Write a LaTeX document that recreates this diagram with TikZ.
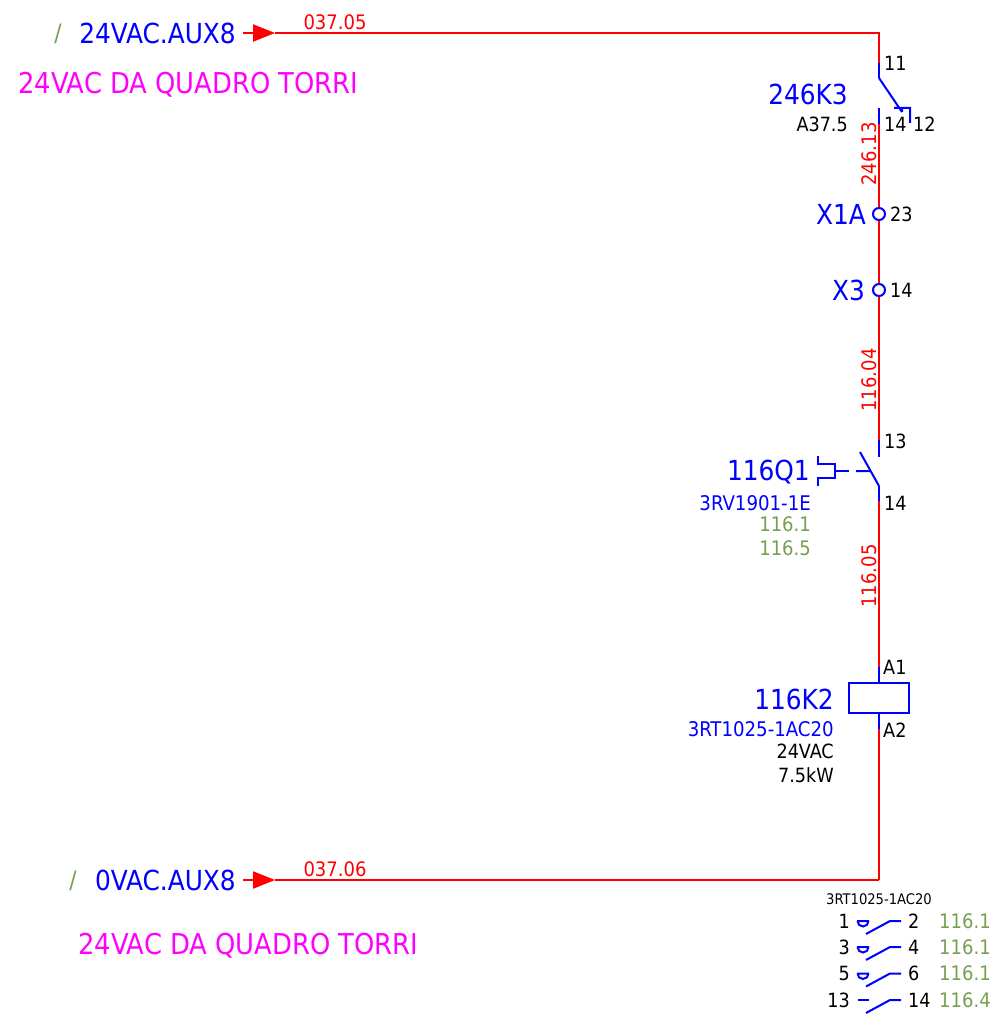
\documentclass[tikz,border=0pt]{standalone}
\usepackage{fontspec}
\setmainfont{DejaVu Sans Condensed}
\usetikzlibrary{arrows.meta}
\definecolor{symblue}{RGB}{0,0,255}
\definecolor{notemag}{RGB}{255,0,255}
\definecolor{refgreen}{RGB}{118,160,80}
\def\nccontact{(879,78) -- (902,112) (894,108) -- (910,108) -- (910,123) (902,108) -- (902,112)}
\def\nocontact{(860,452) -- (879,486) (856,471) -- (870,471)}
\def\pushhead{(818,456) -- (818,463.5) -- (835,463.5) -- (835,478) -- (818,478) -- (818,486) (835,471) -- (849,471)}
\def\auxbowl#1{(857,#1) -- (869,#1) (857.5,#1) arc[start angle=180,end angle=0,x radius=5.5,y radius=5.5] }
\def\auxblade#1{(866,#1+13) -- (890,#1) -- (901,#1)}
\tikzset{
  wire/.style={red,line width=2.2pt},
  sym/.style={symblue,line width=2pt},
  tagbig/.style={symblue,font=\fontsize{27.6}{30}\selectfont,inner sep=0pt},
  tagmid/.style={symblue,font=\fontsize{20.2}{22}\selectfont,inner sep=0pt},
  tagnote/.style={notemag,font=\fontsize{28.7}{30}\selectfont,inner sep=0pt},
  tagref/.style={refgreen,font=\fontsize{20}{22}\selectfont,inner sep=0pt},
  tagpin/.style={black,font=\fontsize{19.6}{22}\selectfont,inner sep=0pt},
  tagwire/.style={red,font=\fontsize{20}{22}\selectfont,inner sep=0pt},
  term/.style={circle,draw=symblue,line width=2pt,fill=white,minimum size=12pt,inner sep=0pt}
}
\begin{document}
\begin{tikzpicture}[x=1pt,y=-1pt]
        \useasboundingbox (0,0) rectangle (995,1014);

        % wire points
        \coordinate (topin) at (243,33);
        \coordinate (toptip) at (275,33);
        \coordinate (topcorner) at (879,33);
        \coordinate (k3a) at (879,63);
        \coordinate (k3b) at (879,78);
        \coordinate (k3c) at (879,108);
        \coordinate (k3d) at (879,124);
        \coordinate (q1a) at (879,440);
        \coordinate (q1b) at (879,457);
        \coordinate (q1c) at (879,486);
        \coordinate (q1d) at (879,501);
        \coordinate (k2a) at (879,667);
        \coordinate (k2d) at (879,729);
        \coordinate (botin) at (243,880);
        \coordinate (bottip) at (275,880);
        \coordinate (botcorner) at (879,880);

        \node[term] (x1a) at (879,214) {};
        \node[term] (x3) at (879,290) {};
        \node[draw=symblue,line width=2pt,minimum width=60pt,minimum height=30pt,inner sep=0pt] (k2coil) at (879,698) {};

        % red wires
        \draw[wire,-{Triangle[length=22pt,width=17pt]}] (topin) -- (toptip);
        \draw[wire] (toptip) -- (topcorner) -- (k3a);
        \draw[wire] (k3d) -- (x1a);
        \draw[wire] (x1a) -- (x3);
        \draw[wire] (x3) -- (q1a);
        \draw[wire] (q1d) -- (k2a);
        \draw[wire] (k2d) -- (botcorner);
        \draw[wire,-{Triangle[length=22pt,width=17pt]}] (botin) -- (bottip);
        \draw[wire] (bottip) -- (botcorner);

        % blue stubs and contacts
        \draw[sym] (k3a) -- (k3b);
        \draw[sym] (k3c) -- (k3d);
        \draw[sym] (q1a) -- (q1b);
        \draw[sym] (q1c) -- (q1d);
        \draw[sym] (k2a) -- (k2coil);
        \draw[sym] (k2coil) -- (k2d);
        \draw[sym] \nccontact;
        \draw[sym] \nocontact;
        \draw[sym] \pushhead;
        \foreach \rowy in {921,947,973.5} {
            \draw[sym] \auxbowl{\rowy};
            \draw[sym] \auxblade{\rowy};
        }
        \draw[sym] (858,1000) -- (869,1000);
        \draw[sym] \auxblade{1000};

        % left side
        \node[tagref,font=\fontsize{24}{26}\selectfont] (slasha) at (58,34) {/};
        \node[tagbig,anchor=east] (aux24) at (236,33) {24VAC.AUX8};
        \node[tagnote,anchor=west] (notea) at (18,85) {24VAC DA QUADRO TORRI};
        \node[tagwire] (w3705) at (335,22) {037.05};
        \node[tagref,font=\fontsize{24}{26}\selectfont] (slashb) at (73,881) {/};
        \node[tagbig,anchor=east] (aux0) at (236,880) {0VAC.AUX8};
        \node[tagwire] (w3706) at (335,869) {037.06};
        \node[tagnote,anchor=west] (noteb) at (78,946) {24VAC DA QUADRO TORRI};

        % 246K3
        \node[tagpin,anchor=west] (p11) at (884,63) {11};
        \node[tagbig,anchor=east] (k3tag) at (848,94) {246K3};
        \node[tagpin,anchor=east] (k3type) at (848,124) {A37.5};
        \node[tagpin,anchor=west] (p14) at (884,124) {14};
        \node[tagpin,anchor=west] (p12) at (913,124) {12};
        \node[tagwire,rotate=90] (w24613) at (869,154) {246.13};

        % terminals
        \node[tagbig,anchor=east] (x1atag) at (866,214) {X1A};
        \node[tagpin,anchor=west] (p23) at (890,214) {23};
        \node[tagbig,anchor=east] (x3tag) at (865,290) {X3};
        \node[tagpin,anchor=west] (px14) at (890,290) {14};
        \node[tagwire,rotate=90] (w11604) at (869,380) {116.04};

        % 116Q1
        \node[tagpin,anchor=west] (p13) at (884,441) {13};
        \node[tagpin,anchor=west] (pq14) at (884,503) {14};
        \node[tagbig,anchor=east] (q1tag) at (810,472) {116Q1};
        \node[tagmid,anchor=east] (q1type) at (811,503) {3RV1901-1E};
        \node[tagref,anchor=east] (q1ra) at (811,524) {116.1};
        \node[tagref,anchor=east] (q1rb) at (811,548) {116.5};
        \node[tagwire,rotate=90] (w11605) at (869,576) {116.05};

        % 116K2
        \node[tagpin,anchor=west] (pa1) at (883,667) {A1};
        \node[tagpin,anchor=west] (pa2) at (883,730) {A2};
        \node[tagbig,anchor=east] (k2tag) at (834,699) {116K2};
        \node[tagmid,anchor=east] (k2type) at (834,729) {3RT1025-1AC20};
        \node[tagpin,anchor=east] (k2volt) at (834,751) {24VAC};
        \node[tagpin,anchor=east] (k2pow) at (834,775) {7.5kW};

        % auxiliary block
        \node[black,font=\fontsize{14.6}{16}\selectfont,inner sep=0pt] (auxtype) at (879,899) {3RT1025-1AC20};
        \node[tagpin,anchor=east] (c1) at (850,921) {1};
        \node[tagpin,anchor=east] (c3) at (850,947) {3};
        \node[tagpin,anchor=east] (c5) at (850,973) {5};
        \node[tagpin,anchor=east] (c13) at (850,1000) {13};
        \node[tagpin,anchor=west] (c2) at (908,921) {2};
        \node[tagpin,anchor=west] (c4) at (908,947) {4};
        \node[tagpin,anchor=west] (c6) at (908,973) {6};
        \node[tagpin,anchor=west] (c14) at (908,1000) {14};
        \node[tagref,anchor=west] (ra) at (939,921) {116.1};
        \node[tagref,anchor=west] (rb) at (939,947) {116.1};
        \node[tagref,anchor=west] (rc) at (939,973) {116.1};
        \node[tagref,anchor=west] (rd) at (939,1000) {116.4};
    \end{tikzpicture}
\end{document}
